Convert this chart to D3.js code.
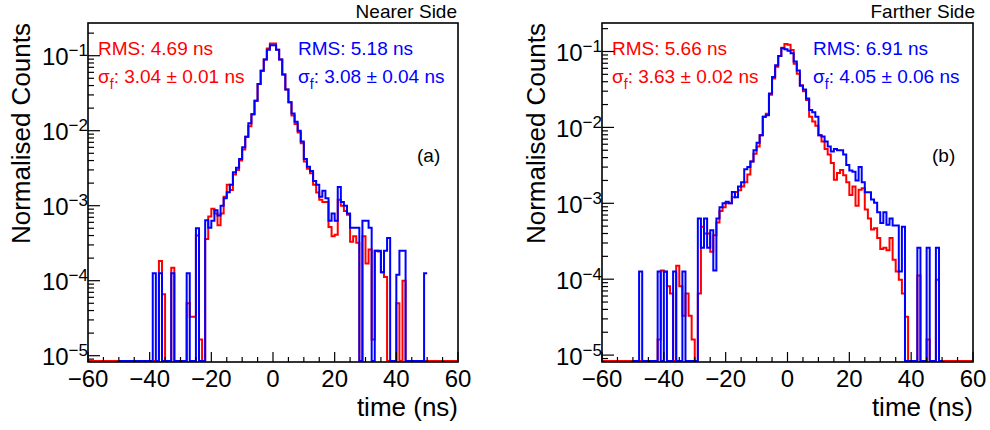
<!DOCTYPE html>
<html><head><meta charset="utf-8">
<script src="https://cdn.jsdelivr.net/npm/d3@7"></script>
<style>
body{margin:0;background:#fff}
svg{display:block}
text{font-family:"Liberation Sans",Arial,Helvetica,sans-serif}
</style>
</head><body>
<svg id="chart" width="990" height="430"></svg>
<script>
// ---------------- DATA ----------------
// bin width 1 ns; red histograms span -60..60, blue histograms span -50..50
const binWidth = 1;
const redFirstBin = -60;
const blueFirstBin = -50;

// (a) Nearer Side
const nearRed = [
  0,0,0,0,0,0,0,0,0,0,                                   // -60..-51
  0,0,0,0,0,0,0,0,0,0,                                   // -50..-41
  0,0,0,1.83e-4,6.6e-5,0,0,1.49e-4,0,0,                   // -40..-31
  0,0,5.0e-5,3.3e-5,3.3e-5,4.0e-4,1.65e-5,0,3.6e-4,7.2e-4, // -30..-21
  9.1e-4,7.9e-4,5.5e-4,7.9e-4,1.32e-3,1.9e-3,1.62e-3,2.6e-3,3.0e-3,4.0e-3, // -20..-11
  5.6e-3,8.3e-3,1.15e-2,1.66e-2,2.5e-2,4.2e-2,6.3e-2,8.9e-2,0.125,0.145,   // -10..-1
  0.145,0.120,0.089,0.056,0.0355,0.024,0.016,0.0123,0.0095,0.0068,         // 0..9
  0.0039,0.0031,0.0027,0.0019,0.0015,0.0012,0.00112,0.00112,5.2e-4,3.9e-4, // 10..19
  4.1e-4,1.2e-3,1.0e-3,8.5e-4,7.6e-4,3.3e-4,3.9e-4,3.2e-4,0,3.9e-4,        // 20..29
  1.7e-4,2.6e-4,1.65e-5,2.5e-4,2.45e-4,1.3e-4,1.12e-4,0,0,0,               // 30..39
  5.0e-5,0,1.0e-4,0,0,0,0,0,0,0,                                           // 40..49
  0,0,0,0,0,0,0,0,0,0                                                      // 50..59
];
const nearBlue = [
  0,0,0,0,0,0,0,0,0,0,                                   // -50..-41
  0,1.26e-4,0,1.26e-4,0,0,0,1.26e-4,0,0,                  // -40..-31
  0,0,1.26e-4,0,0,5.0e-4,0,0,6.4e-4,5.1e-4,               // -30..-21
  6.3e-4,8.7e-4,7.4e-4,1.0e-3,1.26e-3,1.51e-3,1.9e-3,2.8e-3,3.2e-3,4.2e-3, // -20..-11
  6.0e-3,8.3e-3,1.26e-2,1.66e-2,2.5e-2,4.2e-2,6.3e-2,8.9e-2,0.120,0.138,   // -10..-1
  0.138,0.120,0.089,0.056,0.0355,0.024,0.017,0.0132,0.0100,0.0072,         // 0..9
  0.0042,0.0033,0.0029,0.00214,0.0019,0.00132,0.00158,0.00126,6.3e-4,7.9e-4, // 10..19
  6.3e-4,1.78e-3,1.12e-3,1.0e-3,7.9e-4,5.1e-4,5.1e-4,5.1e-4,0,6.3e-4,      // 20..29
  6.3e-4,5.1e-4,0,2.5e-4,2.5e-4,1.3e-4,2.5e-4,3.7e-4,0,0,                  // 30..39
  1.2e-4,2.5e-4,2.5e-4,0,0,0,0,0,0,1.26e-4                                 // 40..49
];

// (b) Farther Side
const farRed = [
  0,0,0,0,0,0,0,0,0,0,                                   // -60..-51
  0,0,0,0,0,0,0,0,1.6e-5,1.3e-4,                          // -50..-41
  1.25e-4,8.1e-5,6.5e-5,0,1.5e-4,8.1e-5,3.3e-5,6.5e-5,3.3e-5,1.6e-5, // -40..-31
  0,6.5e-5,4.9e-4,4.0e-4,4.0e-4,2.3e-4,3.8e-4,5.6e-4,7.9e-4,8.9e-4,  // -30..-21
  1.0e-3,1.0e-3,1.2e-3,1.41e-3,1.48e-3,1.66e-3,1.9e-3,2.4e-3,3.55e-3,4.5e-3, // -20..-11
  5.6e-3,7.9e-3,1.38e-2,1.51e-2,2.7e-2,4.4e-2,6.3e-2,8.7e-2,0.112,0.126,   // -10..-1
  0.123,0.105,0.069,0.051,0.036,0.030,0.023,0.0138,0.0120,0.0105,          // 0..9
  0.0079,0.0065,0.0052,0.0044,0.0034,0.00204,0.0025,0.00275,0.00234,0.0019, // 10..19
  0.00129,0.00166,9.3e-4,1.51e-3,1.58e-3,8.3e-4,6.3e-4,4.5e-4,4.7e-4,3.5e-4, // 20..29
  2.5e-4,2.6e-4,2.4e-4,3.5e-4,1.8e-4,1.26e-4,9.8e-5,6.5e-5,3.2e-5,0,       // 30..39
  0,0,1.12e-4,0,0,1.6e-5,0,0,9.8e-5,0,                                     // 40..49
  0,0,0,0,0,0,0,0,0,0                                                      // 50..59
];
const farBlue = [
  0,0,1.26e-4,0,0,0,0,0,1.26e-4,0,                        // -50..-41
  1.26e-4,0,0,1.26e-4,0,0,1.26e-4,0,0,0,                  // -40..-31
  0,6.3e-4,2.6e-4,6.3e-4,2.6e-4,4.4e-4,1.3e-4,6.3e-4,8.9e-4,1.0e-3, // -30..-21
  1.05e-3,1.0e-3,1.41e-3,1.2e-3,1.66e-3,1.9e-3,2.8e-3,3.0e-3,3.55e-3,5.0e-3, // -20..-11
  6.3e-3,7.9e-3,1.38e-2,1.45e-2,2.8e-2,4.6e-2,6.6e-2,8.7e-2,0.110,0.107,   // -10..-1
  0.102,0.095,0.074,0.056,0.0355,0.0316,0.024,0.017,0.0158,0.0138,         // 0..9
  0.0079,0.0076,0.0065,0.0056,0.0048,0.0052,0.0050,0.0050,0.0044,0.0032,   // 10..19
  0.0027,0.0026,0.0020,0.0030,0.0019,0.0014,0.0014,0.00112,0.00102,7.6e-4, // 20..29
  5.5e-4,7.6e-4,5.2e-4,6.3e-4,5.1e-4,5.1e-4,1.26e-4,4.9e-4,0,0,            // 30..39
  0,0,2.6e-4,0,0,2.6e-4,0,0,2.6e-4,0                                       // 40..49
];

// axis tick labels
const xTickValues = [-60,-40,-20,0,20,40,60];
const yTickExponents = [-1,-2,-3,-4,-5];

// texts
const panelTitles = ["Nearer Side","Farther Side"];
const panelTags = ["(a)","(b)"];
const redRMS = ["RMS: 4.69 ns","RMS: 5.66 ns"];
const redSigma = ["3.04 \u00b1 0.01 ns","3.63 \u00b1 0.02 ns"];
const blueRMS = ["RMS: 5.18 ns","RMS: 6.91 ns"];
const blueSigma = ["3.08 \u00b1 0.04 ns","4.05 \u00b1 0.06 ns"];
const xTitle = "time (ns)";
const yTitle = "Normalised Counts";

// ---------------- LAYOUT ----------------
const RED = "#ff0000", BLUE = "#0000ff";
const panels = [
  {x0:88, x1:458, y0:23, y1:362, yDom:[8.24e-6,0.273], red:nearRed, blue:nearBlue,
   yTitleX:30, statRedX:98, statBlueX:298, tagX:417, titleRight:457},
  {x0:602, x1:973, y0:23, y1:362, yDom:[8.11e-6,0.2374], red:farRed, blue:farBlue,
   yTitleX:545, statRedX:612, statBlueX:813, tagX:932, titleRight:975}
];

const svg = d3.select("#chart");

panels.forEach((p, pi) => {
  const g = svg.append("g");
  const x = d3.scaleLinear().domain([-60, 60]).range([p.x0, p.x1]);
  const y = d3.scaleLog().domain(p.yDom).range([p.y1, p.y0]);
  const zeroY = p.y1 - 1;
  const yMin = p.yDom[0];

  const clipId = "clip" + pi;
  g.append("clipPath").attr("id", clipId)
    .append("rect").attr("x", p.x0).attr("y", p.y0 - 1)
    .attr("width", p.x1 - p.x0).attr("height", p.y1 - p.y0 + 1);

  function stepPath(vals, first) {
    const pts = vals.map((v, i) => [first + i * binWidth, v]);
    pts.push([first + vals.length * binWidth, vals[vals.length - 1]]);
    return d3.line()
      .x(d => x(d[0]))
      .y(d => d[1] > yMin ? y(d[1]) : zeroY)
      .curve(d3.curveStepAfter)(pts);
  }

  const hg = g.append("g").attr("clip-path", `url(#${clipId})`);
  hg.append("path").attr("d", stepPath(p.red, redFirstBin))
    .attr("fill", "none").attr("stroke", RED).attr("stroke-width", 2);
  hg.append("path").attr("d", stepPath(p.blue, blueFirstBin))
    .attr("fill", "none").attr("stroke", BLUE).attr("stroke-width", 2);

  // frame
  g.append("rect").attr("x", p.x0).attr("y", p.y0)
    .attr("width", p.x1 - p.x0).attr("height", p.y1 - p.y0)
    .attr("fill", "none").attr("stroke", "#000").attr("stroke-width", 1.6);

  // x ticks every 5 ns, major every 20
  const xt = d3.range(-60, 61, 5);
  g.selectAll(".xt").data(xt).enter().append("line")
    .attr("x1", d => x(d)).attr("x2", d => x(d))
    .attr("y1", p.y1).attr("y2", d => p.y1 - (d % 20 === 0 ? 10 : 5))
    .attr("stroke", "#000").attr("stroke-width", 1.2);
  g.selectAll(".xl").data(xTickValues).enter().append("text")
    .attr("x", d => x(d)).attr("y", 387)
    .attr("text-anchor", "middle").attr("font-size", 24)
    .text(d => d < 0 ? "\u2212" + Math.abs(d) : String(d));

  // y ticks (log)
  const yt = y.ticks().filter(v => v >= p.yDom[0] && v <= p.yDom[1]);
  g.selectAll(".yt").data(yt).enter().append("line")
    .attr("y1", d => y(d)).attr("y2", d => y(d))
    .attr("x1", p.x0).attr("x2", d => {
      const isMajor = Math.abs(Math.log10(d) - Math.round(Math.log10(d))) < 1e-6;
      return p.x0 + (isMajor ? 12 : 6);
    })
    .attr("stroke", "#000").attr("stroke-width", 1.2);
  yTickExponents.forEach(e => {
    const yy = y(Math.pow(10, e));
    const t = g.append("text").attr("x", p.x0).attr("y", yy + 9.5)
      .attr("text-anchor", "end").attr("font-size", 24);
    t.append("tspan").text("10");
    t.append("tspan").attr("dy", -9).attr("font-size", 17).text("\u2212" + Math.abs(e));
  });

  // axis titles
  g.append("text").attr("x", p.x1).attr("y", 416)
    .attr("text-anchor", "end").attr("font-size", 26).text(xTitle);
  g.append("text")
    .attr("transform", `translate(${p.yTitleX},${p.y0}) rotate(-90)`)
    .attr("text-anchor", "end").attr("font-size", 26).text(yTitle);

  // panel title
  g.append("text").attr("x", p.titleRight).attr("y", 18)
    .attr("text-anchor", "end").attr("font-size", 19).text(panelTitles[pi]);

  // stats
  function stats(xp, color, rms, sig) {
    g.append("text").attr("x", xp).attr("y", 55).attr("font-size", 19)
      .attr("fill", color).text(rms);
    const t = g.append("text").attr("x", xp).attr("y", 82.5).attr("font-size", 19)
      .attr("fill", color);
    t.append("tspan").text("\u03c3");
    t.append("tspan").attr("dy", 6).attr("font-size", 14).text("f");
    t.append("tspan").attr("dy", -6).text(": " + sig);
  }
  stats(p.statRedX, RED, redRMS[pi], redSigma[pi]);
  stats(p.statBlueX, BLUE, blueRMS[pi], blueSigma[pi]);

  g.append("text").attr("x", p.tagX).attr("y", 162).attr("font-size", 19)
    .text(panelTags[pi]);
});
</script>
</body></html>
